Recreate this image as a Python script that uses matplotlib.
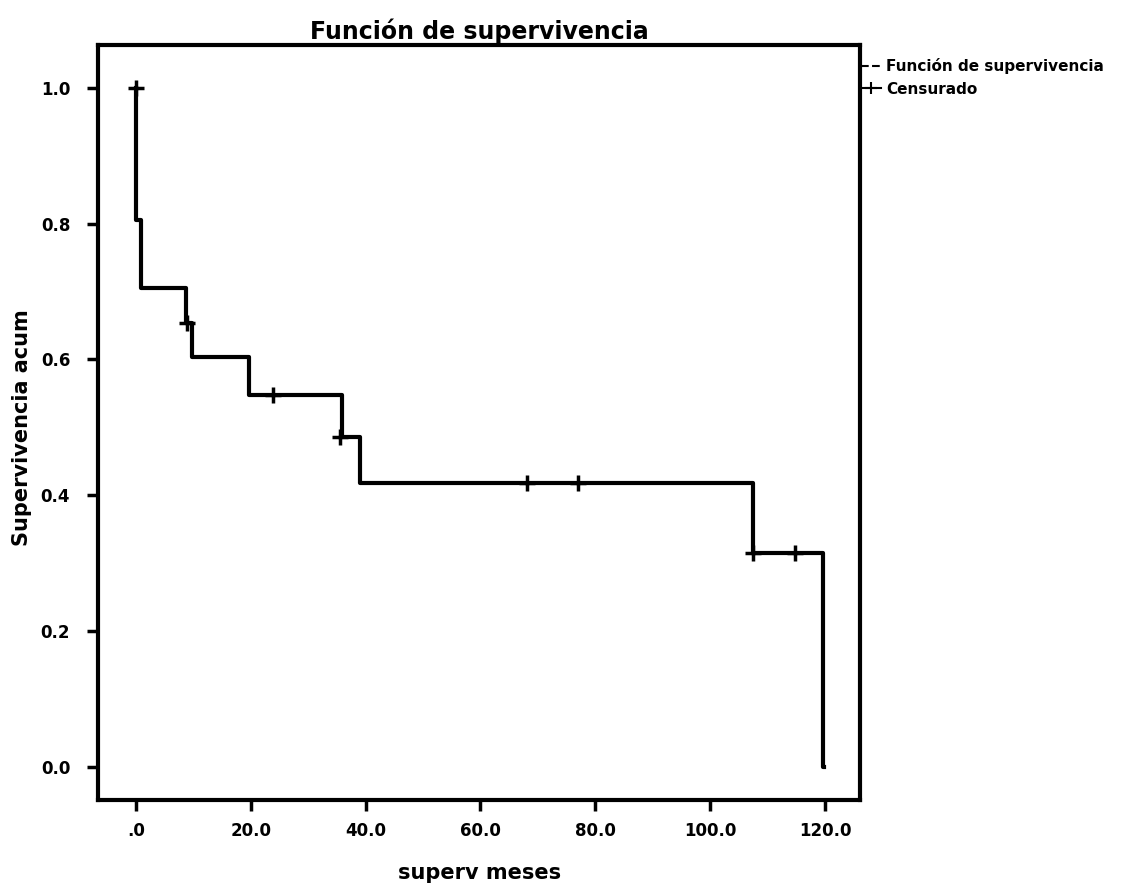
import matplotlib.pyplot as plt
from matplotlib.lines import Line2D

plt.rcParams.update({
    'font.family': 'DejaVu Sans',
    'font.weight': 'bold',
})

# Kaplan-Meier step curve (time in months, survival)
step_times = [0, 0.1, 0.9, 8.7, 9.7, 19.7, 35.9, 39.0, 107.5, 119.7]
step_surv = [1.0, 0.806, 0.705, 0.654, 0.604, 0.548, 0.486, 0.418, 0.315, 0.0]
end_time = 119.9

# censored cases
cens_times = [0.0, 8.9, 23.9, 35.5, 68.1, 77.0, 107.5, 114.8]
cens_surv = [1.0, 0.654, 0.548, 0.486, 0.418, 0.418, 0.315, 0.315]

xticks = [0, 20, 40, 60, 80, 100, 120]
xticklabels = ['.0', '20.0', '40.0', '60.0', '80.0', '100.0', '120.0']
yticks = [0.0, 0.2, 0.4, 0.6, 0.8, 1.0]
yticklabels = ['0.0', '0.2', '0.4', '0.6', '0.8', '1.0']

fig = plt.figure(figsize=(11.41, 8.90), dpi=100)
ax = fig.add_axes([0.0859, 0.1011, 0.6678, 0.8483])

ax.step(step_times + [end_time], step_surv + [step_surv[-1]], where='post',
        color='black', linewidth=3)
ax.plot(cens_times, cens_surv, linestyle='none', marker='+', color='black',
        markersize=11, markeredgewidth=2.5)

ax.set_xlim(-6.6, 126.1)
ax.set_ylim(-0.049, 1.063)
ax.set_xticks(xticks)
ax.set_xticklabels(xticklabels)
ax.set_yticks(yticks)
ax.set_yticklabels(yticklabels)
ax.tick_params(direction='out', length=8, width=2.5, labelsize=12)
ax.tick_params(axis='x', pad=8)
ax.tick_params(axis='y', pad=12)
for s in ax.spines.values():
    s.set_linewidth(3)

ax.set_title('Función de supervivencia', fontsize=17, fontweight='bold', pad=4)
fig.text(0.42, 0.019, 'superv meses', fontsize=15, fontweight='bold',
         ha='center', va='center')
fig.text(0.019, 0.52, 'Supervivencia acum', fontsize=15, fontweight='bold',
         ha='center', va='center', rotation=90)

handles = [
    Line2D([0], [0], color='black', linewidth=1.5, linestyle='--',
           label='Función de supervivencia'),
    Line2D([0], [0], color='black', linewidth=1.5, marker='+', markersize=8,
           markeredgewidth=1.5, label='Censurado'),
]
ax.legend(handles=handles, loc='upper left', bbox_to_anchor=(1.0, 0.985),
          frameon=False, fontsize=11, handlelength=1.3, handletextpad=0.3,
          borderaxespad=0.0, labelspacing=0.5, borderpad=0.1)

plt.savefig('out.png', dpi=100)
